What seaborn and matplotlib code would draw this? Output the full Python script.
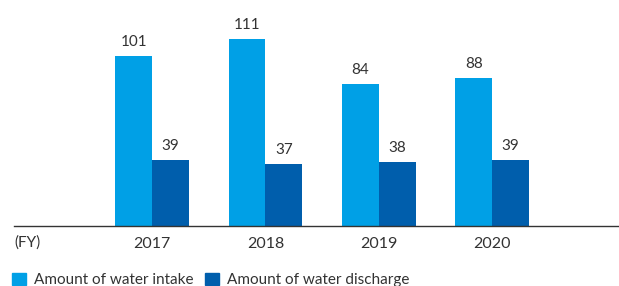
import matplotlib.pyplot as plt
import pandas as pd
import seaborn as sns

# Data
years = ["2017", "2018", "2019", "2020"]
water_intake = [101, 111, 84, 88]
water_discharge = [39, 37, 38, 39]
series_names = ["Amount of water intake", "Amount of water discharge"]
colors = ["#00a0e6", "#005eac"]

sns.set_theme(style="white")
plt.rcParams['font.family'] = ['Lato', 'DejaVu Sans']

df = pd.DataFrame({
    "year": years * 2,
    "value": water_intake + water_discharge,
    "series": [series_names[0]] * 4 + [series_names[1]] * 4,
})

fig = plt.figure(figsize=(6.19, 2.86), dpi=100)
ax = fig.add_axes([14 / 619, 60 / 286, 605 / 619, 226 / 286])

sns.barplot(data=df, x="year", y="value", hue="series", palette=colors,
            width=0.65, gap=0, saturation=1, legend=False, linewidth=0,
            ax=ax)

for cont in ax.containers:
  ax.bar_label(cont, padding=5, fontsize=11, color="#333333")

ax.set_xlim(-1.218, 4.12)
ax.set_ylim(0, 134)
ax.set_xlabel("")
ax.set_ylabel("")
ax.set_yticks([])
ax.tick_params(axis="x", length=0, pad=8, labelsize=11.5, labelcolor="#333333")
for side in ["top", "left", "right"]:
  ax.spines[side].set_visible(False)
ax.spines["bottom"].set_color("#333333")
ax.spines["bottom"].set_linewidth(1.0)

fig.text(14 / 619, 1 - 243 / 286, "(FY)", fontsize=11, color="#333333",
         ha="left", va="center")

handles = [plt.Rectangle((0, 0), 1, 1, color=c) for c in colors]
fig.legend(handles, series_names, loc="center left",
           bbox_to_anchor=(6 / 619, 1 - 280 / 286), ncol=2, frameon=False,
           fontsize=11, handlelength=0.9, handleheight=0.9,
           handletextpad=0.5, columnspacing=0.8, labelcolor="#333333",
           borderaxespad=0)

fig.savefig("out.png", dpi=100)
